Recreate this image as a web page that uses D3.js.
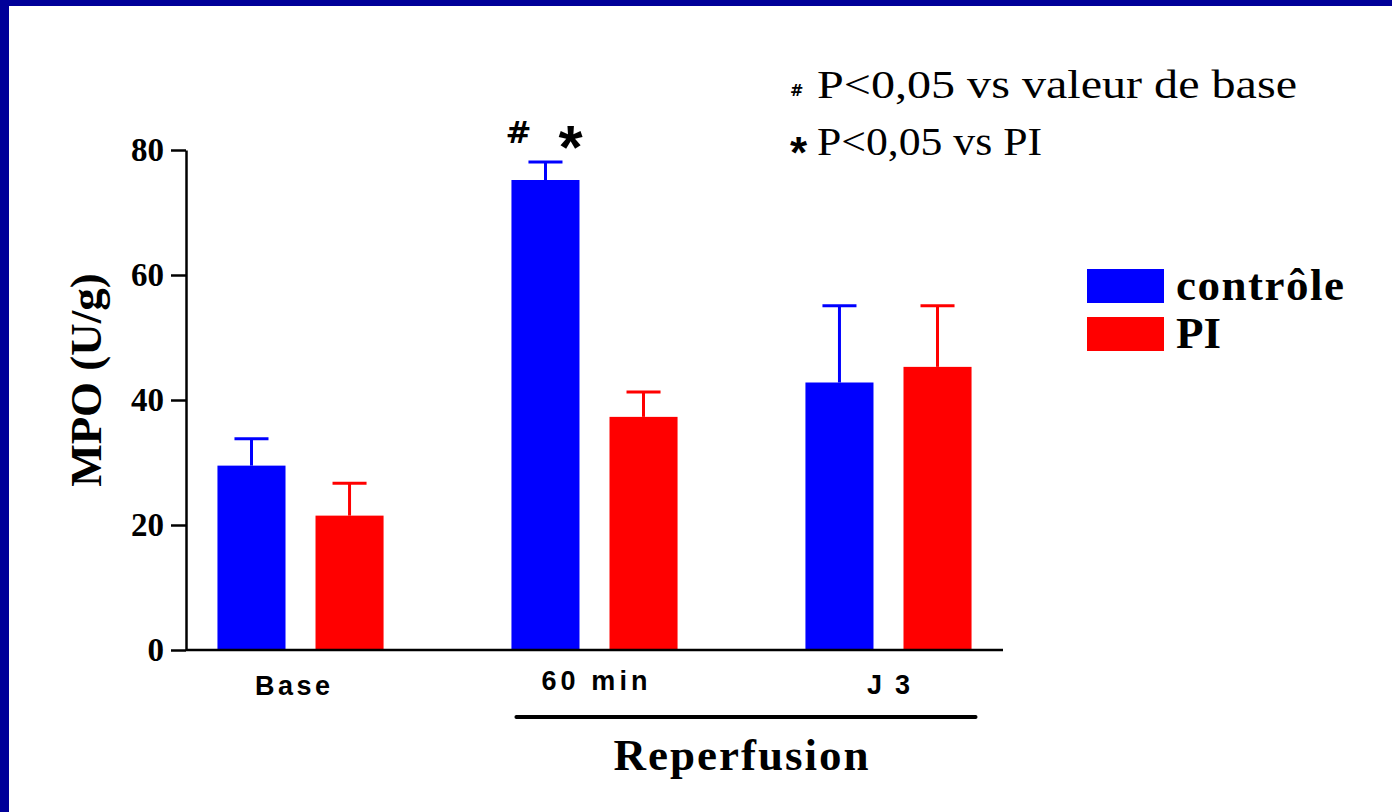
<!DOCTYPE html>
<html><head><meta charset="utf-8">
<script src="https://cdn.jsdelivr.net/npm/d3@7"></script>
<style>body{margin:0;background:#fff;overflow:hidden}</style>
</head><body><svg id="c" width="1392" height="812"></svg>
<script>
const groups = ["Base", "60 min", "J 3"];
const seriesNames = ["contrôle", "PI"];
const controleMean = [29.5, 75.2, 42.8];
const controleSem = [4.3, 2.9, 12.3];
const piMean = [21.5, 37.3, 45.3];
const piSem = [5.2, 4.0, 9.8];
const yTicks = [0, 20, 40, 60, 80];
const seriesColors = ["#0000ff", "#ff0000"];
const yTitle = "MPO (U/g)";
const groupTitle = "Reperfusion";
const sigNotes = ["P<0,05 vs valeur de base", "P<0,05 vs PI"];
const sigSymbols = ["#", "*"];

const svg = d3.select("#c");
const W = 1392, H = 812;
svg.append("rect").attr("width", W).attr("height", H).attr("fill", "#fff");
svg.append("rect").attr("x", 0).attr("y", 0).attr("width", 9).attr("height", H).attr("fill", "#000099");
svg.append("rect").attr("x", 0).attr("y", 0).attr("width", W).attr("height", 6).attr("fill", "#000099");

const serif = "'Liberation Serif','Times New Roman',serif";
const sans = "'Liberation Sans',Arial,sans-serif";
const heavy = "'DejaVu Sans',sans-serif";

const y = d3.scaleLinear().domain([0, 80]).range([650, 150]);
const x0 = d3.scaleBand().domain(groups).range([186, 1003]).paddingInner(0.435).paddingOuter(0.107);
const x1 = d3.scaleBand().domain(seriesNames).range([0, x0.bandwidth()]).paddingInner(0.306).paddingOuter(0);

const rows = [];
groups.forEach((g, i) => {
  rows.push({g, s: seriesNames[0], m: controleMean[i], e: controleSem[i], c: seriesColors[0]});
  rows.push({g, s: seriesNames[1], m: piMean[i], e: piSem[i], c: seriesColors[1]});
});

// bars
svg.append("g").selectAll("rect").data(rows).join("rect")
  .attr("x", d => x0(d.g) + x1(d.s))
  .attr("y", d => y(d.m))
  .attr("width", x1.bandwidth())
  .attr("height", d => y(0) - y(d.m))
  .attr("fill", d => d.c);

// error bars
const eb = svg.append("g").selectAll("g").data(rows).join("g");
eb.append("line")
  .attr("x1", d => x0(d.g) + x1(d.s) + x1.bandwidth() / 2)
  .attr("x2", d => x0(d.g) + x1(d.s) + x1.bandwidth() / 2)
  .attr("y1", d => y(d.m)).attr("y2", d => y(d.m + d.e))
  .attr("stroke", d => d.c).attr("stroke-width", 3);
eb.append("line")
  .attr("x1", d => x0(d.g) + x1(d.s) + x1.bandwidth() / 4)
  .attr("x2", d => x0(d.g) + x1(d.s) + x1.bandwidth() * 3 / 4)
  .attr("y1", d => y(d.m + d.e)).attr("y2", d => y(d.m + d.e))
  .attr("stroke", d => d.c).attr("stroke-width", 3);

// y axis
const ya = svg.append("g").attr("transform", "translate(186,0)")
  .call(d3.axisLeft(y).tickValues(yTicks).tickSize(15).tickSizeOuter(0).tickPadding(7));
ya.select(".domain").attr("stroke", "#000").attr("stroke-width", 2.5);
ya.selectAll(".tick line").attr("stroke", "#000").attr("stroke-width", 2.5);
ya.selectAll(".tick text").attr("font-family", serif).attr("font-weight", "bold")
  .attr("font-size", 33).attr("fill", "#000").attr("dy", "0.33em");

// x axis line
svg.append("line").attr("x1", 186).attr("x2", 1003).attr("y1", y(0)).attr("y2", y(0))
  .attr("stroke", "#000").attr("stroke-width", 2.5);

// x labels
const labelLen = [75, 106, 43];
const labelY = [695, 690, 694];
svg.append("g").selectAll("text").data(groups).join("text")
  .attr("x", (d, i) => x0(d) + x0.bandwidth() / 2 - (i === 0 ? 8 : 0))
  .attr("y", (d, i) => labelY[i])
  .attr("text-anchor", "middle")
  .attr("font-family", sans).attr("font-weight", "bold").attr("font-size", 27)
  .attr("textLength", (d, i) => labelLen[i])
  .text(d => d);

// y title
svg.append("text").attr("transform", "translate(101,380) rotate(-90)")
  .attr("text-anchor", "middle")
  .attr("font-family", serif).attr("font-weight", "bold").attr("font-size", 45)
  .text(yTitle);

// reperfusion bracket
const rx1 = x0("60 min") + 5, rx2 = x0("J 3") + x0.bandwidth() + 4;
svg.append("line").attr("x1", rx1).attr("x2", rx2).attr("y1", 717).attr("y2", 717)
  .attr("stroke", "#000").attr("stroke-width", 4).attr("stroke-linecap", "round");
svg.append("text").attr("x", 741).attr("y", 770).attr("text-anchor", "middle")
  .attr("font-family", serif).attr("font-weight", "bold").attr("font-size", 45)
  .attr("textLength", 255)
  .text(groupTitle);

// significance marks over 60 min controle bar
const cx = x0("60 min") + x1("contrôle") + x1.bandwidth() / 2;
svg.append("text").attr("x", cx - 27).attr("y", 143).attr("text-anchor", "middle")
  .attr("font-family", heavy).attr("font-weight", "bold").attr("font-size", 31).text(sigSymbols[0]);
svg.append("text").attr("x", cx + 25).attr("y", 168).attr("text-anchor", "middle")
  .attr("font-family", sans).attr("font-weight", "bold").attr("font-size", 62).text(sigSymbols[1]);

// notes
svg.append("text").attr("x", 790).attr("y", 96)
  .attr("font-family", heavy).attr("font-weight", "bold").attr("font-size", 16).text(sigSymbols[0]);
svg.append("text").attr("x", 790).attr("y", 168)
  .attr("font-family", sans).attr("font-weight", "bold").attr("font-size", 44).text(sigSymbols[1]);
svg.append("text").attr("x", 817).attr("y", 98)
  .attr("font-family", serif).attr("font-size", 40)
  .attr("textLength", 480).attr("lengthAdjust", "spacingAndGlyphs").text(sigNotes[0]);
svg.append("text").attr("x", 817).attr("y", 155)
  .attr("font-family", serif).attr("font-size", 40)
  .attr("textLength", 225).attr("lengthAdjust", "spacingAndGlyphs").text(sigNotes[1]);

// legend
const lg = svg.append("g").selectAll("g").data(seriesNames).join("g")
  .attr("transform", (d, i) => `translate(1087,${269 + i * 48})`);
lg.append("rect").attr("width", 77).attr("height", 34).attr("fill", (d, i) => seriesColors[i]);
lg.append("text").attr("x", 89).attr("y", 31)
  .attr("font-family", serif).attr("font-weight", "bold").attr("font-size", 45)
  .attr("textLength", (d, i) => i === 0 ? 168 : 45)
  .text(d => d);
</script></body></html>
